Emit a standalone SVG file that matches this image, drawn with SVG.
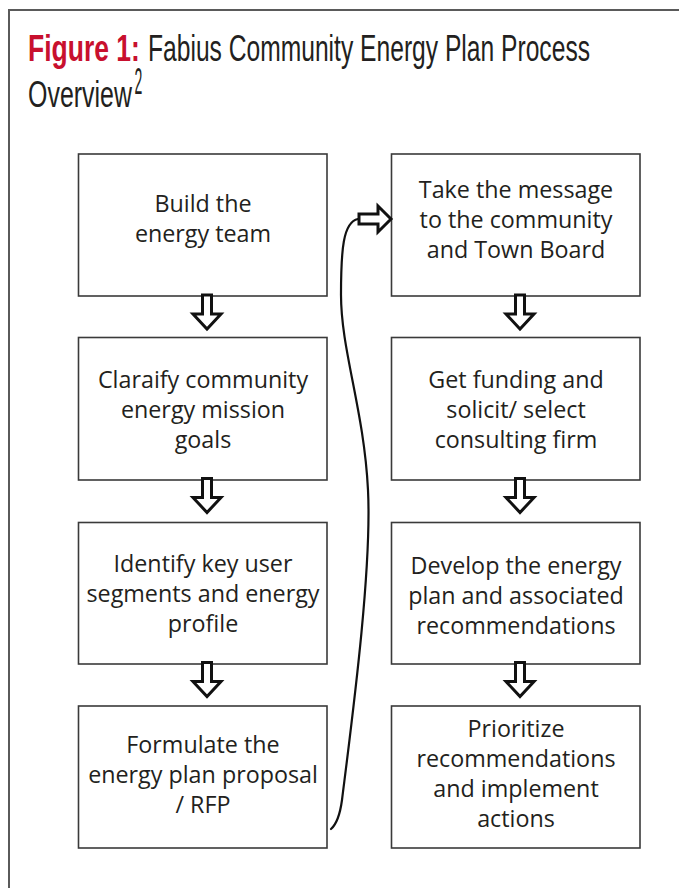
<svg xmlns="http://www.w3.org/2000/svg" width="679" height="888" viewBox="0 0 679 888">
  <style>
    .frame { fill: none; stroke: #5a5a5a; stroke-width: 2; }
    .box { fill: #ffffff; stroke: #3a3a3a; stroke-width: 1.6; }
    .label { font-family: "Open Sans", "Liberation Sans", sans-serif; font-size: 23.3px; fill: #231f20; text-anchor: middle; }
    .title { font-family: "Liberation Sans", sans-serif; font-size: 37px; fill: #231f20; }
    .title-red { fill: #c8102e; font-weight: bold; }
    .down { fill: #ffffff; stroke: #111111; stroke-width: 3; stroke-linejoin: miter; }
    .curve { fill: none; stroke: #111111; stroke-width: 2.2; stroke-linecap: round; }
  </style>
  <defs>
    <!-- hollow block arrow pointing down, origin at top-centre of the shaft -->
    <polygon id="downArrow" points="-4.5,0 4.5,0 4.5,19 14,19 0,34 -14,19 -4.5,19" />
  </defs>

  <rect width="679" height="888" fill="#ffffff" />

  <!-- page frame -->
  <path class="frame" d="M 9 888 L 9 10 L 679 10" />

  <!-- heading, set in a horizontally condensed face -->
  <g id="title" transform="scale(0.65 1)">
    <text class="title title-red" x="43.1" y="61" textLength="172" lengthAdjust="spacingAndGlyphs">Figure 1:</text>
    <text class="title" x="227.7" y="61" textLength="680" lengthAdjust="spacingAndGlyphs">Fabius Community Energy Plan Process</text>
    <text class="title" x="43.1" y="107" textLength="160" lengthAdjust="spacingAndGlyphs">Overview</text>
    <text class="title" x="207" y="94" font-size="16" textLength="12" lengthAdjust="spacingAndGlyphs">2</text>
  </g>

  <!-- left column -->
  <g id="build-team">
    <rect class="box" x="78.5" y="154" width="248.5" height="142" />
    <text class="label" x="203" y="212">Build the</text>
    <text class="label" x="203" y="242">energy team</text>
  </g>
  <g id="clarify-goals">
    <rect class="box" x="78.5" y="337.5" width="248.5" height="142.5" />
    <text class="label" x="203" y="388">Claraify community</text>
    <text class="label" x="203" y="418">energy mission</text>
    <text class="label" x="203" y="448">goals</text>
  </g>
  <g id="identify-segments">
    <rect class="box" x="78.5" y="522.5" width="248.5" height="141.5" />
    <text class="label" x="203" y="572">Identify key user</text>
    <text class="label" x="203" y="602">segments and energy</text>
    <text class="label" x="203" y="632">profile</text>
  </g>
  <g id="formulate-proposal">
    <rect class="box" x="78.5" y="706" width="248.5" height="142" />
    <text class="label" x="203" y="753">Formulate the</text>
    <text class="label" x="203" y="783">energy plan proposal</text>
    <text class="label" x="203" y="813">/ RFP</text>
  </g>

  <!-- right column -->
  <g id="take-message">
    <rect class="box" x="391.5" y="154" width="248.5" height="142" />
    <text class="label" x="516" y="198">Take the message</text>
    <text class="label" x="516" y="228">to the community</text>
    <text class="label" x="516" y="258">and Town Board</text>
  </g>
  <g id="get-funding">
    <rect class="box" x="391.5" y="337.5" width="248.5" height="142.5" />
    <text class="label" x="516" y="388">Get funding and</text>
    <text class="label" x="516" y="418">solicit/ select</text>
    <text class="label" x="516" y="448">consulting firm</text>
  </g>
  <g id="develop-plan">
    <rect class="box" x="391.5" y="522.5" width="248.5" height="141.5" />
    <text class="label" x="516" y="574">Develop the energy</text>
    <text class="label" x="516" y="604">plan and associated</text>
    <text class="label" x="516" y="634">recommendations</text>
  </g>
  <g id="prioritize">
    <rect class="box" x="391.5" y="706" width="248.5" height="142" />
    <text class="label" x="516" y="737">Prioritize</text>
    <text class="label" x="516" y="767">recommendations</text>
    <text class="label" x="516" y="797">and implement</text>
    <text class="label" x="516" y="827">actions</text>
  </g>

  <!-- connectors -->
  <g id="connectors">
    <use href="#downArrow" class="down" x="207" y="295" />
    <use href="#downArrow" class="down" x="207" y="478.5" />
    <use href="#downArrow" class="down" x="207" y="662.5" />
    <use href="#downArrow" class="down" x="520" y="295" />
    <use href="#downArrow" class="down" x="520" y="478.5" />
    <use href="#downArrow" class="down" x="520" y="662.5" />
    <!-- loop from the last left step back up to the first right step -->
    <path class="curve" d="M 331 829 Q 339 822 342 800 C 352 720 372 570 368 490 C 364 410 341 350 341 295 C 341 250 343 222 358 219" />
    <polygon class="down" points="359,214 378,214 378,206 391,219 378,232 378,224 359,224" />
  </g>
</svg>
